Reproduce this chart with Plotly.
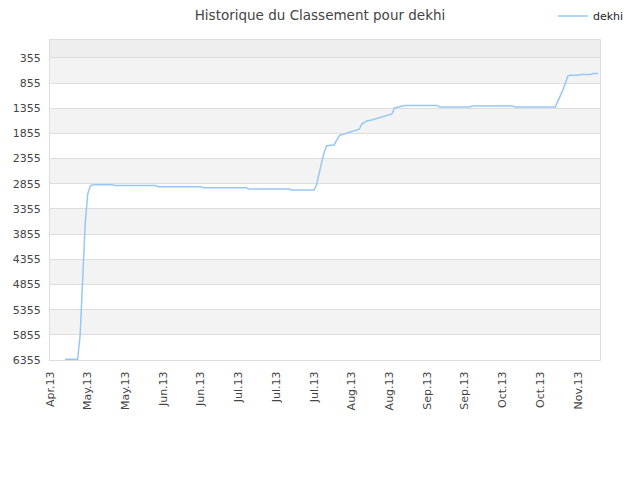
import plotly.graph_objects as go

# données du classement (date, rang)
dates = [
    "2013-04-23", "2013-04-28", "2013-04-29", "2013-04-30", "2013-05-01",
    "2013-05-02", "2013-05-03", "2013-05-04", "2013-05-12", "2013-05-13",
    "2013-05-29", "2013-05-30", "2013-06-16", "2013-06-17", "2013-07-04",
    "2013-07-05", "2013-07-21", "2013-07-22", "2013-07-31", "2013-08-01",
    "2013-08-02", "2013-08-03", "2013-08-04", "2013-08-05", "2013-08-08",
    "2013-08-09", "2013-08-10", "2013-08-11", "2013-08-13", "2013-08-16",
    "2013-08-18", "2013-08-19", "2013-08-21", "2013-08-23", "2013-08-27",
    "2013-08-30", "2013-08-31", "2013-09-01", "2013-09-04", "2013-09-05",
    "2013-09-18", "2013-09-19", "2013-10-01", "2013-10-02", "2013-10-18",
    "2013-10-19", "2013-11-04", "2013-11-05", "2013-11-07", "2013-11-09",
    "2013-11-10", "2013-11-13", "2013-11-14", "2013-11-18", "2013-11-19",
    "2013-11-21",
]
rangs = [
    6340, 6340, 5850, 4700, 3650,
    3060, 2900, 2873, 2873, 2892,
    2892, 2912, 2912, 2932, 2932,
    2958, 2958, 2978, 2978, 2880,
    2640, 2440, 2240, 2100, 2084,
    1990, 1905, 1880, 1851, 1800,
    1772, 1670, 1607, 1587, 1533,
    1494, 1468, 1350, 1309, 1303,
    1303, 1329, 1329, 1309, 1309,
    1329, 1329, 1223, 991, 713,
    699, 699, 687, 687, 667,
    667,
]

y_ticks = [355, 855, 1355, 1855, 2355, 2855, 3355, 3855, 4355, 4855, 5355, 5855, 6355]

fig = go.Figure()
fig.add_trace(go.Scatter(x=dates, y=rangs, mode="lines", name="dekhi",
                         line=dict(color="#99c7f4", width=1.5)))

# bandes alternées
shapes = [dict(type="rect", xref="paper", yref="y", x0=0, x1=1, y0=0, y1=y_ticks[0],
               fillcolor="#eeeeee", line_width=0, layer="below")]
for i in range(0, len(y_ticks) - 1, 2):
    shapes.append(dict(type="rect", xref="paper", yref="y", x0=0, x1=1,
                       y0=y_ticks[i], y1=y_ticks[i + 1],
                       fillcolor="#f3f3f3", line_width=0, layer="below"))

# la page a une marge de 8px, on compense
fig.update_layout(
    width=640, height=480,
    margin=dict(l=42, r=48, t=32, b=128, autoexpand=False),
    paper_bgcolor="white", plot_bgcolor="white",
    font=dict(family="DejaVu Sans", size=11, color="#444"),
    title=dict(text="Historique du Classement pour dekhi", x=0.4875, xanchor="center",
               y=0.985, yanchor="middle", font=dict(size=13.5, color="#444")),
    shapes=shapes,
    showlegend=True,
    legend=dict(x=0.9145, y=1.075, xanchor="left", yanchor="middle",
                bgcolor="rgba(0,0,0,0)", font=dict(size=11, color="#222")),
)
fig.update_xaxes(
    type="date", range=["2013-04-17", "2013-11-21 18:00"],
    tick0="2013-04-17", dtick=15 * 86400000, tickformat="%b.%y",
    tickangle=-90, showgrid=False, showline=True, linecolor="#dddddd",
    mirror=True, ticks="", tickfont=dict(size=11, color="#444"), automargin=False,
    ticklabelstandoff=6,
)
fig.update_yaxes(
    range=[6355, 0], tickvals=y_ticks, showgrid=True, gridcolor="#dddddd",
    showline=True, linecolor="#dddddd", mirror=True, zeroline=False, ticks="",
    tickfont=dict(size=11, color="#444"), automargin=False, ticklabelstandoff=6,
)

fig.write_html("out.html")
